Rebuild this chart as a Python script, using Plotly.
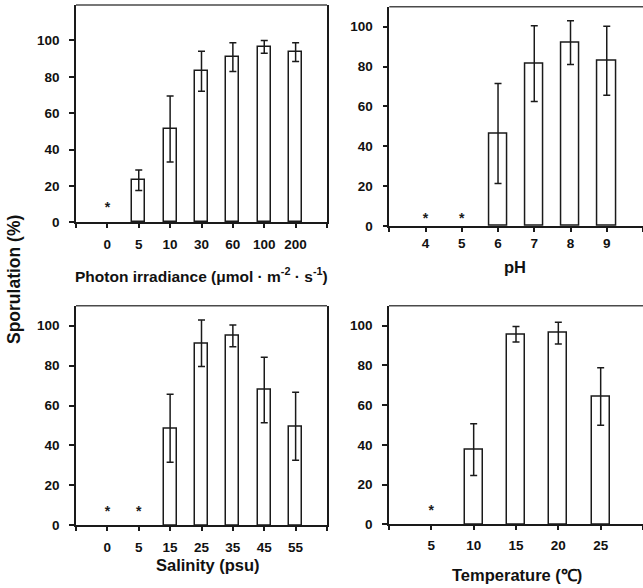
import plotly.graph_objects as go

# ---------------- data ----------------
light_labels = ["0", "5", "10", "30", "60", "100", "200"]
light_values = [None, 23.1, 51.3, 83.1, 90.8, 96.5, 93.6]
light_errors = [None, 5.6, 18.2, 11.0, 7.9, 3.5, 5.2]
light_stars = ["0"]

ph_labels = ["4", "5", "6", "7", "8", "9"]
ph_values = [None, None, 46.4, 81.4, 92.0, 82.9]
ph_errors = [None, None, 25.1, 19.0, 11.0, 17.3]
ph_stars = ["4", "5"]

sal_labels = ["0", "5", "15", "25", "35", "45", "55"]
sal_values = [None, None, 48.6, 91.2, 94.9, 67.8, 49.6]
sal_errors = [None, None, 17.0, 11.6, 5.4, 16.4, 17.0]
sal_stars = ["0", "5"]

temp_labels = ["5", "10", "15", "20", "25"]
temp_values = [None, 37.6, 95.6, 96.2, 64.3]
temp_errors = [None, 13.0, 3.9, 5.5, 14.5]
temp_stars = ["5"]

star_level = [7.8, 3.5, 6.5, 6.6]

# ---------------- layout helpers ----------------
W, H = 643, 588
FONT = "Liberation Sans, Arial, sans-serif"
LINE = "#1a1a1a"
FRAME_TOP = "#4a4a4a"

panels = [
    dict(labels=light_labels, values=light_values, errors=light_errors, stars=light_stars,
         slevel=star_level[0], xpx=(76, 327), ypx=(5, 222.3), ymax=119.5,
         title="Photon irradiance (μmol · m<sup>-2</sup> · s<sup>-1</sup>)", ty=275, tx=201, tsize=15.5,
         stand=5, bw=0.42, mirror_y=True),
    dict(labels=ph_labels, values=ph_values, errors=ph_errors, stars=ph_stars,
         slevel=star_level[1], xpx=(389.3, 643), ypx=(6.7, 226), ymax=110,
         title="pH", ty=266.7, tx=515, tsize=16.5,
         stand=0, bw=0.5, mirror_y=False),
    dict(labels=sal_labels, values=sal_values, errors=sal_errors, stars=sal_stars,
         slevel=star_level[2], xpx=(76, 327), ypx=(305.7, 525.3), ymax=110,
         title="Salinity (psu)", ty=565, tx=208, tsize=16.5,
         stand=5, bw=0.42, mirror_y=True),
    dict(labels=temp_labels, values=temp_values, errors=temp_errors, stars=temp_stars,
         slevel=star_level[3], xpx=(389, 643), ypx=(305.7, 524.3), ymax=110,
         title="Temperature (℃)", ty=575, tx=517, tsize=16.5,
         stand=4, bw=0.42, mirror_y=False),
]

fig = go.Figure()
annotations = []
shapes = []

for i, p in enumerate(panels, start=1):
    xa = "x" if i == 1 else f"x{i}"
    ya = "y" if i == 1 else f"y{i}"
    n = len(p["labels"])
    xs = list(range(n))
    bx = [x for x, v in zip(xs, p["values"]) if v is not None]
    bv = [v for v in p["values"] if v is not None]
    be = [e for e, v in zip(p["errors"], p["values"]) if v is not None]
    fig.add_trace(go.Bar(
        x=bx, y=bv, width=p["bw"], xaxis=xa, yaxis=ya,
        marker=dict(color="white", line=dict(color=LINE, width=1.5)),
        error_y=dict(type="data", array=be, visible=True, color=LINE,
                     thickness=1.5, width=3.5),
        showlegend=False,
    ))
    sx = [p["labels"].index(s) for s in p["stars"]]
    fig.add_trace(go.Scatter(
        x=sx, y=[p["slevel"]] * len(sx), xaxis=xa, yaxis=ya,
        mode="text", text=["<b>*</b>"] * len(sx), textposition="middle center",
        textfont=dict(family=FONT, size=14, color=LINE),
        showlegend=False, hoverinfo="skip",
    ))

    xd = [p["xpx"][0] / W, min(p["xpx"][1] / W, 1.0)]
    yd = [1 - p["ypx"][1] / H, 1 - p["ypx"][0] / H]
    xkey = "xaxis" if i == 1 else f"xaxis{i}"
    ykey = "yaxis" if i == 1 else f"yaxis{i}"
    fig.layout[xkey] = dict(
        domain=xd, anchor=ya, range=[-1, n], showgrid=False, zeroline=False,
        tickmode="array", tickvals=list(range(-1, n + 1)),
        ticktext=[""] + [f"<b>{t}</b>" for t in p["labels"]] + [""],
        ticks="outside", ticklen=4, tickwidth=1.5, tickcolor=LINE,
        showline=True, linecolor=LINE, linewidth=1.5, mirror=False,
        tickfont=dict(family=FONT, size=13.5, color="#111"),
        ticklabelstandoff=p["stand"], fixedrange=True, automargin=False,
    )
    yt = [0, 20, 40, 60, 80, 100]
    fig.layout[ykey] = dict(
        domain=yd, anchor=xa, range=[0, p["ymax"]], showgrid=False, zeroline=False,
        tickmode="array", tickvals=yt, ticktext=[f"<b>{t}</b>" for t in yt],
        ticks="outside", ticklen=5, tickwidth=1.5, tickcolor=LINE,
        showline=True, linecolor=LINE, linewidth=1.5, mirror=p["mirror_y"],
        tickfont=dict(family=FONT, size=13.5, color="#111"),
        ticklabelstandoff=7, fixedrange=True, automargin=False,
    )
    # top edge of the frame (drawn slightly lighter, as in the reference)
    shapes.append(dict(
        type="line", xref=f"{xa} domain", yref=f"{ya} domain",
        x0=0, x1=1, y0=1, y1=1, line=dict(color=FRAME_TOP, width=1.5),
    ))
    annotations.append(dict(
        text=f"<b>{p['title']}</b>", xref="paper", yref="paper",
        x=p["tx"] / W, y=1 - p["ty"] / H, xanchor="center", yanchor="middle",
        showarrow=False, font=dict(family=FONT, size=p["tsize"], color="#111"),
    ))

annotations.append(dict(
    text="<b>Sporulation (%)</b>", xref="paper", yref="paper",
    x=14 / W, y=1 - 280 / H, xanchor="center", yanchor="middle", textangle=-90,
    showarrow=False, font=dict(family=FONT, size=17.5, color="#111"),
))

fig.update_layout(
    width=W, height=H, margin=dict(l=0, r=0, t=0, b=0, autoexpand=False),
    paper_bgcolor="white", plot_bgcolor="white",
    annotations=annotations, shapes=shapes, bargap=0,
)

fig.write_html(
    "out.html",
    config={"displayModeBar": False},
    post_script="document.body.style.margin='0';document.body.style.overflow='hidden';",
)
